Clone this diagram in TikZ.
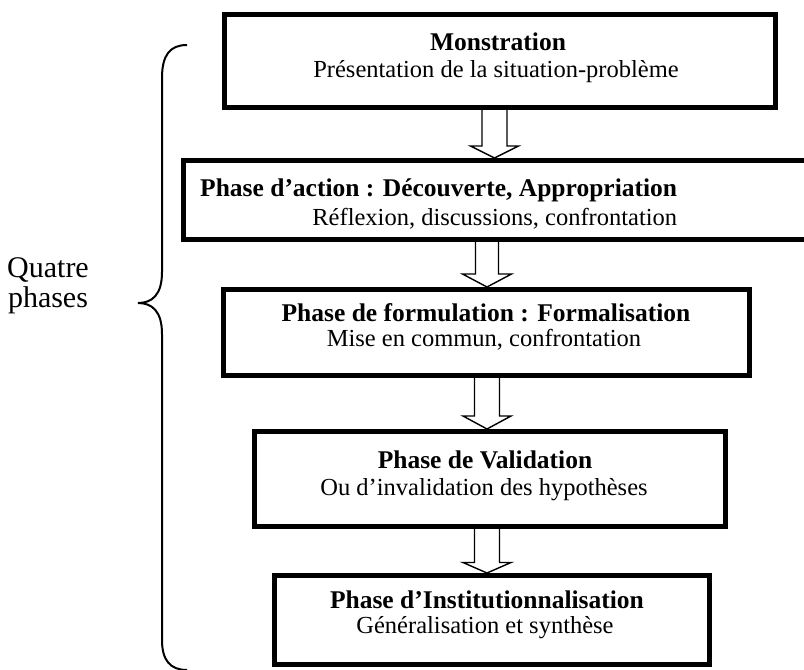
\documentclass[tikz,border=0pt]{standalone}
\usepackage{fontspec}
\setmainfont{Liberation Serif}
\usetikzlibrary{calc}
\tikzset{
  box/.style={draw, line width=5pt, inner sep=0pt},
  ttl/.style={font=\fontsize{25.5}{28}\selectfont\bfseries, inner sep=0pt},
  sub/.style={font=\fontsize{24.5}{28}\selectfont, inner sep=0pt},
  hollow/.style={draw, line width=1.4pt, fill=white, line join=miter},
  bracestyle/.style={draw, line width=2pt},
  side/.style={font=\fontsize{30}{30}\selectfont, align=center, inner sep=0pt},
}
% #1 upper box, #2 lower box, #3 x centre, #4 half shaft, #5 half head, #6 head length
\newcommand{\hollowarrow}[6]{%
  \path[hollow] let \p1=(#1.south), \p2=(#2.north) in
    (#3pt-#4pt,\y1) -- (#3pt-#4pt,\y2+#6pt) -- (#3pt-#5pt,\y2+#6pt) -- (#3pt,\y2)
    -- (#3pt+#5pt,\y2+#6pt) -- (#3pt+#4pt,\y2+#6pt) -- (#3pt+#4pt,\y1);}
\begin{document}
\begin{tikzpicture}[x=1pt,y=-1pt]
\useasboundingbox (0,0) rectangle (804,670);
% boxes
\node[box, minimum width=551pt, minimum height=93pt] (b1) at (500,61) {};
\node[box, minimum width=624pt, minimum height=79pt] (b2) at (495.5,200) {};
\node[box, minimum width=526pt, minimum height=86pt] (b3) at (486.5,332.5) {};
\node[box, minimum width=471pt, minimum height=95pt] (b4) at (490,479) {};
\node[box, minimum width=435pt, minimum height=89pt] (b5) at (492,620) {};
% texts
\node[ttl] (t1a) at (498,42) {Monstration};
\node[sub] (t1b) at (496,72) {Présentation de la situation-problème};
\node[ttl, anchor=west] (t2a) at (200,190) {Phase d’action : Découverte, Appropriation};
\node[sub, anchor=east] (t2b) at (t2a.east |- 0,219) {Réflexion, discussions, confrontation};
\node[ttl] (t3a) at (486,313) {Phase de formulation : Formalisation};
\node[sub] (t3b) at (484,340) {Mise en commun, confrontation};
\node[ttl] (t4a) at (485,460) {Phase de Validation};
\node[sub] (t4b) at (484,490) {Ou d’invalidation des hypothèses};
\node[ttl] (t5a) at (487,600) {Phase d’Institutionnalisation};
\node[sub] (t5b) at (485,628) {Généralisation et synthèse};
% arrows
\hollowarrow{b1}{b2}{494.5}{12.5}{24}{12}
\hollowarrow{b2}{b3}{487}{11.5}{24.5}{13}
\hollowarrow{b3}{b4}{487}{12.5}{24}{13}
\hollowarrow{b4}{b5}{487}{12.5}{24}{10.5}
% brace
\path[bracestyle] (187,45) .. controls (170,45) and (162,55) .. (162,78)
  -- (162,272) .. controls (162,295) and (152,303) .. (138,303)
  .. controls (152,303) and (162,311) .. (162,334)
  -- (162,640) .. controls (162,660) and (170,670) .. (187,670);
\node[side] (q) at (48,286) {Quatre\\phases};
\end{tikzpicture}
\end{document}
